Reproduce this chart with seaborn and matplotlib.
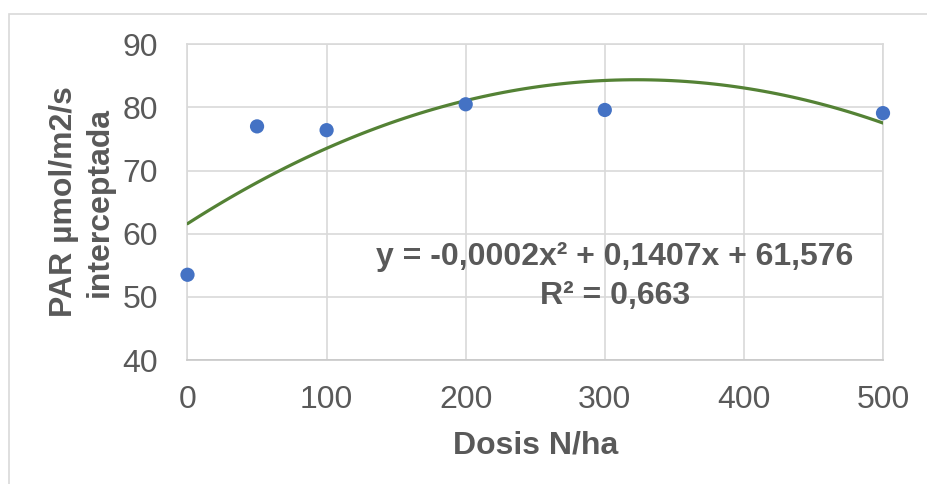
import matplotlib
matplotlib.use("Agg")
import matplotlib.pyplot as plt
import seaborn as sns
import numpy as np
import pandas as pd
from matplotlib.patches import Rectangle

# ---- data ----
dosis = [0, 50, 100, 200, 300, 500]
par = [53.5, 77.0, 76.4, 80.5, 79.6, 79.1]
x_ticks = [0, 100, 200, 300, 400, 500]
y_ticks = [40, 50, 60, 70, 80, 90]
x_label = "Dosis N/ha"
y_label_lines = ["PAR µmol/m2/s", "interceptada"]
eq_lines = ["y = -0,0002x² + 0,1407x + 61,576", "R² = 0,663"]

df = pd.DataFrame({"dosis": dosis, "par": par})

sns.set_theme(style="white")
plt.rcParams["font.family"] = ["Liberation Sans", "DejaVu Sans"]

W, H = 928, 484
fig = plt.figure(figsize=(W / 100, H / 100), dpi=100)
L, R, T, B = 187.5, 883, 44.3, 360
ax = fig.add_axes([L / W, 1 - B / H, (R - L) / W, (B - T) / H])

txt = "#595959"
grid = "#D9D9D9"

# outer chart border (left & top visible)
fig.patches.append(Rectangle((9 / W, -0.1), 2, (H - 14) / H + 0.1,
                             transform=fig.transFigure, fill=False,
                             edgecolor=grid, linewidth=1.2))

sns.regplot(data=df, x="dosis", y="par", order=2, ci=None, scatter=False,
            ax=ax, line_kws=dict(color="#548235", linewidth=2.3, zorder=3))
sns.scatterplot(data=df, x="dosis", y="par", ax=ax, s=105, color="#4472C4",
                edgecolor="none", zorder=4, clip_on=False)

ax.set_xlim(0, 500)
ax.set_ylim(40, 90)
ax.set_xticks(x_ticks)
ax.set_yticks(y_ticks)
ax.grid(True, color=grid, linewidth=1.2)
ax.set_axisbelow(True)
for s in ax.spines.values():
    s.set_color(grid)
    s.set_linewidth(1.2)
ax.spines["bottom"].set_color("#C8C8C8")
ax.tick_params(axis="both", length=0, labelsize=23, labelcolor=txt)
ax.tick_params(axis="y", pad=21)
ax.tick_params(axis="x", pad=18)
ax.set_xlabel("")
ax.set_ylabel("")

fs = 23
fig.text((L + R) / 2 / W, 1 - 453 / H, x_label, ha="center", va="baseline",
         fontsize=fs, fontweight="bold", color=txt)
for xb, line in zip([72, 108], y_label_lines):
    fig.text(xb / W, 1 - 202 / H, line, ha="center", va="baseline",
             rotation=90, rotation_mode="anchor",
             fontsize=fs, fontweight="bold", color=txt)
for yb, line in zip([265, 304], eq_lines):
    fig.text(615 / W, 1 - yb / H, line, ha="center", va="baseline",
             fontsize=fs, fontweight="bold", color=txt)

fig.savefig("out.png", dpi=100)
